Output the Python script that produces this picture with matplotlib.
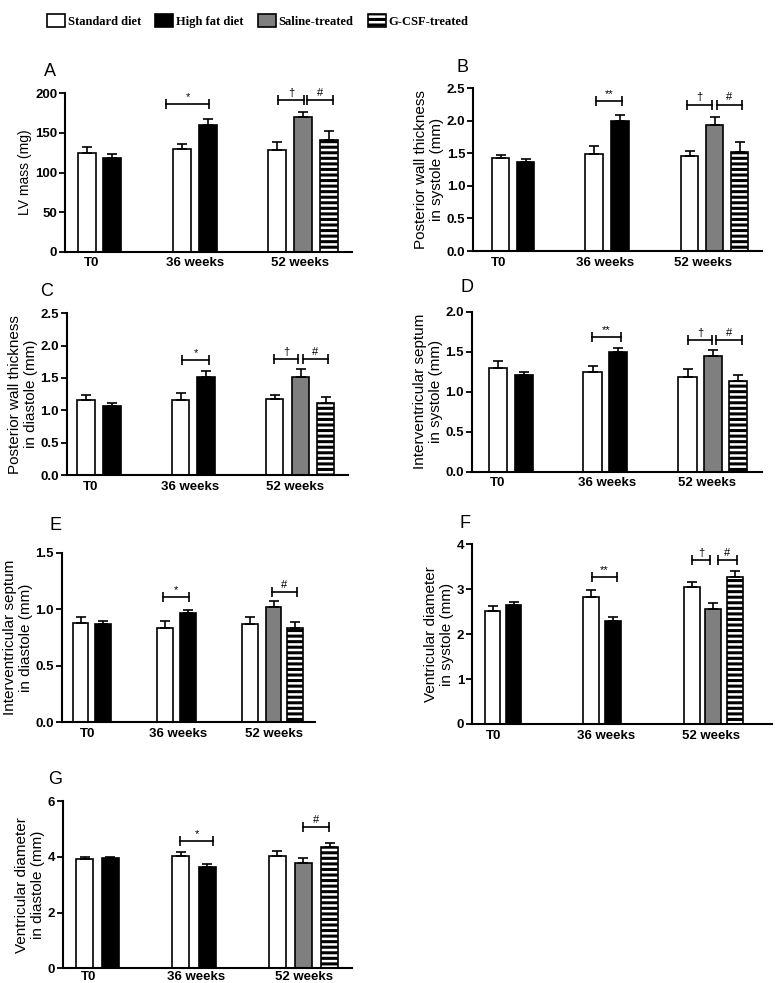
import matplotlib.pyplot as plt
from matplotlib.patches import Patch

W, H = 777, 983
plt.rcParams['font.family'] = ['Liberation Sans', 'DejaVu Sans']
plt.rcParams['hatch.linewidth'] = 2.2

groups = ['T0', '36 weeks', '52 weeks']
treatments = ['Standard diet', 'High fat diet', 'Saline-treated', 'G-CSF-treated']
# order of bars: T0 std, T0 hfd, 36w std, 36w hfd, 52w std, 52w saline, 52w G-CSF
bar_kind = [0, 1, 0, 1, 0, 2, 3]

lv_mass = [125, 118, 130, 160, 129, 170, 141]
lv_mass_sem = [7, 5, 6, 7, 9, 6, 11]
pw_sys = [1.43, 1.36, 1.49, 2.00, 1.46, 1.93, 1.52]
pw_sys_sem = [0.05, 0.05, 0.13, 0.09, 0.08, 0.13, 0.15]
pw_dia = [1.16, 1.06, 1.16, 1.52, 1.17, 1.51, 1.12]
pw_dia_sem = [0.08, 0.06, 0.11, 0.09, 0.07, 0.13, 0.09]
ivs_sys = [1.30, 1.21, 1.25, 1.50, 1.18, 1.45, 1.13]
ivs_sys_sem = [0.08, 0.04, 0.07, 0.05, 0.10, 0.07, 0.08]
ivs_dia = [0.88, 0.87, 0.83, 0.97, 0.87, 1.02, 0.83]
ivs_dia_sem = [0.05, 0.025, 0.07, 0.02, 0.06, 0.05, 0.06]
vd_sys = [2.52, 2.64, 2.83, 2.30, 3.04, 2.55, 3.28]
vd_sys_sem = [0.11, 0.07, 0.15, 0.09, 0.13, 0.15, 0.13]
vd_dia = [3.91, 3.94, 4.03, 3.65, 4.04, 3.79, 4.34]
vd_dia_sem = [0.09, 0.06, 0.15, 0.08, 0.17, 0.15, 0.14]

# significance brackets: symbol and height (data units)
sig_a = [('*', 186), ('†', 191.6), ('#', 191.6)]
sig_b = [('**', 2.30), ('†', 2.25), ('#', 2.25)]
sig_c = [('*', 1.78), ('†', 1.79), ('#', 1.79)]
sig_d = [('**', 1.68), ('†', 1.65), ('#', 1.65)]
sig_e = [('*', 1.11), ('#', 1.155)]
sig_f = [('**', 3.27), ('†', 3.65), ('#', 3.65)]
sig_g = [('*', 4.57), ('#', 5.06)]

fill = {0: ('white', None), 1: ('black', None), 2: ('#7f7f7f', None), 3: ('white', '---')}

# layout in figure pixels
panels = [
    dict(letter='A', lp=(50, 72), box=(65, 352, 93.3, 251.7), ymax=200, step=50, fmt='{:.0f}',
         xs=[87, 112, 182, 208, 277, 303, 329], w=18, lab=[92, 195, 300],
         br=[(166, 209), (278, 304), (307, 333)], vals=lv_mass, err=lv_mass_sem, sig=sig_a,
         ylabel='LV mass (mg)', ls=10),
    dict(letter='B', lp=(462, 67), box=(473, 762, 88.3, 251), ymax=2.5, step=0.5, fmt='{:.1f}',
         xs=[500.5, 525.5, 594, 620, 689.5, 714.5, 739.5], w=17.5, lab=[499, 605, 703],
         br=[(596, 622), (687, 712), (717, 742)], vals=pw_sys, err=pw_sys_sem, sig=sig_b,
         ylabel='Posterior wall thickness\nin systole (mm)', ls=11),
    dict(letter='C', lp=(47, 292), box=(66.7, 348, 313.3, 475), ymax=2.5, step=0.5, fmt='{:.1f}',
         xs=[86, 112, 180.5, 206, 274.5, 300.5, 325.5], w=17.5, lab=[90.5, 190, 295],
         br=[(182, 209), (274, 298), (303, 328)], vals=pw_dia, err=pw_dia_sem, sig=sig_c,
         ylabel='Posterior wall thickness\nin diastole (mm)', ls=11),
    dict(letter='D', lp=(467, 287), box=(471.7, 761.7, 311.7, 471.7), ymax=2.0, step=0.5, fmt='{:.1f}',
         xs=[498, 524, 592.5, 618, 687.5, 713, 738], w=18.5, lab=[497.5, 607.5, 707],
         br=[(592, 621), (688, 712), (716, 742)], vals=ivs_sys, err=ivs_sys_sem, sig=sig_d,
         ylabel='Interventricular septum\nin systole (mm)', ls=11),
    dict(letter='E', lp=(55, 525), box=(61.7, 315, 552.7, 722.3), ymax=1.5, step=0.5, fmt='{:.1f}',
         xs=[80.5, 103, 165, 188, 250, 273.5, 295], w=15.5, lab=[88, 178, 274],
         br=[(163, 189), (272, 297)], vals=ivs_dia, err=ivs_dia_sem, sig=sig_e,
         ylabel='Interventricular septum\nin diastole (mm)', ls=11),
    dict(letter='F', lp=(465, 523), box=(471.7, 771.7, 544.3, 724), ymax=4, step=1, fmt='{:.0f}',
         xs=[492.5, 513.5, 591, 613, 692, 713, 735], w=15.5, lab=[494, 606, 711],
         br=[(592, 617), (692, 710), (718, 737)], vals=vd_sys, err=vd_sys_sem, sig=sig_f,
         ylabel='Ventricular diameter\nin systole (mm)', ls=11),
    dict(letter='G', lp=(55, 780), box=(62.7, 351.7, 801, 968.3), ymax=6, step=2, fmt='{:.0f}',
         xs=[84.5, 110, 180.5, 207, 277, 303, 329.5], w=17, lab=[89, 196, 304],
         br=[(180, 213), (303, 329)], vals=vd_dia, err=vd_dia_sem, sig=sig_g,
         ylabel='Ventricular diameter\nin diastole (mm)', ls=11),
]

fig = plt.figure(figsize=(W / 100, H / 100), dpi=100)

for p in panels:
    l, r, t, b = p['box']
    ax = fig.add_axes([l / W, 1 - b / H, (r - l) / W, (b - t) / H])
    ax.set_xlim(l, r)
    ax.set_ylim(0, p['ymax'])
    for x, v, e, k in zip(p['xs'], p['vals'], p['err'], bar_kind):
        fc, hatch = fill[k]
        ax.bar(x, v, width=p['w'], color=fc, edgecolor='black', linewidth=1.2,
               hatch=hatch, zorder=2)
        ax.errorbar(x, v, yerr=[[0], [e]], fmt='none', ecolor='black',
                    elinewidth=1.2, capsize=3.3, capthick=1.2, zorder=3)
    for (x1, x2), (sym, yv) in zip(p['br'], p['sig']):
        ax.plot([x1, x2], [yv, yv], color='black', lw=1.2, marker='|',
                markersize=7, markeredgewidth=1.2, zorder=4)
        ax.annotate(sym, ((x1 + x2) / 2, yv), xytext=(0, 1.5), textcoords='offset points',
                    ha='center', va='bottom', fontsize=8)
    n = int(round(p['ymax'] / p['step']))
    ticks = [i * p['step'] for i in range(n + 1)]
    ax.set_yticks(ticks)
    ax.set_yticklabels([p['fmt'].format(tk) for tk in ticks], fontsize=9.5, fontweight='bold')
    ax.set_xticks(p['lab'])
    ax.set_xticklabels(groups, fontsize=9.5, fontweight='bold')
    ax.tick_params(axis='x', length=0, pad=2 if p['letter'] == 'G' else 4)
    ax.tick_params(axis='y', length=4, width=1.3, pad=1.5)
    for s in ['top', 'right']:
        ax.spines[s].set_visible(False)
    for s in ['left', 'bottom']:
        ax.spines[s].set_linewidth(1.5)
    ax.set_ylabel(p['ylabel'], fontsize=p['ls'], labelpad=2, linespacing=1.15)
    fig.text(p['lp'][0] / W, 1 - p['lp'][1] / H, p['letter'], fontsize=13,
             ha='center', va='center')

handles = [Patch(facecolor=fill[k][0], edgecolor='black', hatch=fill[k][1], linewidth=1.2)
           for k in range(4)]
fig.legend(handles, treatments, loc='upper left', bbox_to_anchor=(47 / W, 1 - 14 / H),
           ncol=4, frameon=False, borderpad=0, borderaxespad=0, handlelength=1.45,
           handleheight=1.25, handletextpad=0.2, columnspacing=1.15,
           prop={'family': 'Liberation Serif', 'weight': 'bold', 'size': 9})

fig.savefig('out.png', dpi=100)
